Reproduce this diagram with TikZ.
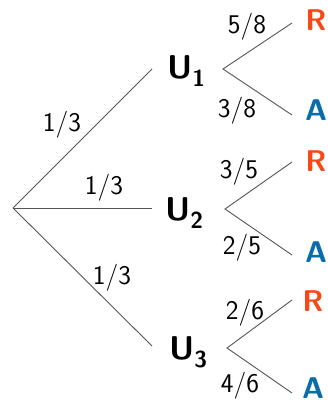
\documentclass[tikz,border=0pt]{standalone}
\usepackage{fontspec}
\definecolor{rcol}{RGB}{250,72,20}
\definecolor{acol}{RGB}{8,110,170}
\definecolor{lcol}{RGB}{85,85,85}
\begin{document}
\begin{tikzpicture}[x=1pt,y=-1pt,
  br/.style={draw=lcol,line width=0.9pt},
  prob/.style={font=\sffamily\fontsize{27}{30}\selectfont,inner sep=0pt},
  urn/.style={font=\sffamily\bfseries\fontsize{33}{36}\selectfont,inner sep=0pt,anchor=west},
  rr/.style={font=\sffamily\bfseries\fontsize{30}{33}\selectfont,inner sep=0pt,text=rcol},
  aa/.style={font=\sffamily\bfseries\fontsize{30}{33}\selectfont,inner sep=0pt,text=acol}]
\useasboundingbox (0,0) rectangle (327,403);
\coordinate (O) at (13,208);
\coordinate (E1) at (152,69);
\coordinate (E2) at (152,208);
\coordinate (E3) at (152,346);
\node[urn] (U1) at (167,71) {U\textsubscript{1}};
\node[urn] (U2) at (165,213) {U\textsubscript{2}};
\node[urn] (U3) at (169,352) {U\textsubscript{3}};
\draw[br] (O) -- (E1);
\draw[br] (O) -- (E2);
\draw[br] (O) -- (E3);
\node[prob] (p1) at (62,125) {1/3};
\node[prob] (p2) at (104,188) {1/3};
\node[prob] (p3) at (112,278) {1/3};
% U1 subtree
\coordinate (V1) at (223,69);
\coordinate (R1e) at (292,23);
\coordinate (A1e) at (292,115);
\draw[br] (R1e) -- (V1) -- (A1e);
\node[rr] (R1) at (316,20) {R};
\node[aa] (A1) at (316,110) {A};
\node[prob] (q1) at (247,27) {5/8};
\node[prob] (q2) at (237,111) {3/8};
% U2 subtree
\coordinate (V2) at (225,209);
\coordinate (R2e) at (292,162);
\coordinate (A2e) at (292,255);
\draw[br] (R2e) -- (V2) -- (A2e);
\node[rr] (R2) at (316,161) {R};
\node[aa] (A2) at (316,252) {A};
\node[prob] (q3) at (239,172) {3/5};
\node[prob] (q4) at (242,248) {2/5};
% U3 subtree
\coordinate (V3) at (227,348);
\coordinate (R3e) at (292,300);
\coordinate (A3e) at (292,393);
\draw[br] (R3e) -- (V3) -- (A3e);
\node[rr] (R3) at (313,301) {R};
\node[aa] (A3) at (313,388) {A};
\node[prob] (q5) at (245,313) {2/6};
\node[prob] (q6) at (240,386) {4/6};
\end{tikzpicture}
\end{document}
